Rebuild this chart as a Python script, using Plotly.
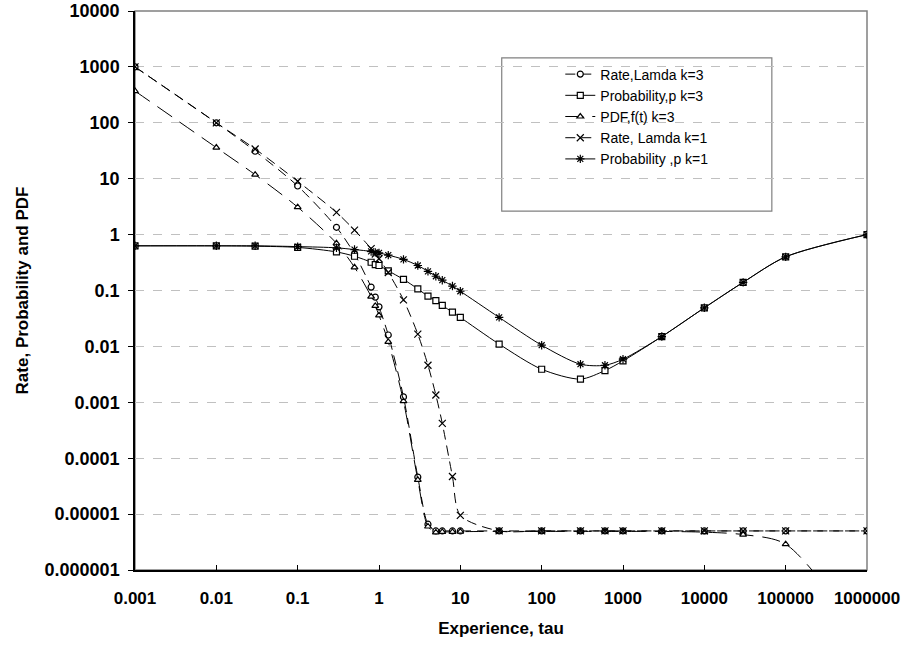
import plotly.graph_objects as go

# experience points (tau) shared by all series
tau = [0.001, 0.01, 0.03, 0.1, 0.3, 0.5, 0.8, 0.9, 1, 1.3, 2, 3, 4, 5, 6, 8, 10,
       30, 100, 300, 600, 1000, 3000, 10000, 30000, 100000, 1000000]

rate_k3 = [1000, 100, 31, 7.4, 1.35, 0.45, 0.115, 0.076, 0.051, 0.016, 0.00125, 4.6e-5, 6.6e-6,
           5e-6, 5e-6, 5e-6, 5e-6, 5e-6, 5e-6, 5e-6, 5e-6, 5e-6, 5e-6, 5e-6, 5e-6, 5e-6, 5e-6]
prob_k3 = [0.63, 0.63, 0.62, 0.59, 0.49, 0.41, 0.32, 0.29, 0.28, 0.225, 0.158, 0.107, 0.079,
           0.066, 0.054, 0.041, 0.033, 0.011, 0.0039, 0.0026, 0.0037, 0.0055, 0.015, 0.049,
           0.14, 0.4, 1.0]
pdf_k3 = [370, 36, 11.8, 3.1, 0.70, 0.26, 0.078, 0.053, 0.036, 0.012, 0.00105, 4.1e-5, 6e-6,
          4.7e-6, 4.8e-6, 4.8e-6, 4.85e-6, 4.9e-6, 4.9e-6, 4.9e-6, 4.9e-6, 4.9e-6, 4.9e-6,
          4.75e-6, 4.3e-6, 2.9e-6, 5e-8]
rate_k1 = [1000, 100, 34, 9.0, 2.5, 1.2, 0.56, 0.45, 0.37, 0.21, 0.068, 0.0166, 0.0046,
           0.00135, 0.00042, 4.7e-5, 9.5e-6, 5e-6, 5e-6, 5e-6, 5e-6, 5e-6, 5e-6, 5e-6, 5e-6,
           5e-6, 5e-6]
prob_k1 = [0.63, 0.63, 0.63, 0.61, 0.58, 0.54, 0.50, 0.48, 0.47, 0.43, 0.36, 0.28, 0.22,
           0.18, 0.153, 0.12, 0.097, 0.033, 0.0105, 0.0048, 0.0046, 0.0059, 0.015, 0.049,
           0.14, 0.4, 1.0]

x_ticks = [0.001, 0.01, 0.1, 1, 10, 100, 1000, 10000, 100000, 1000000]
x_ticktext = ["0.001", "0.01", "0.1", "1", "10", "100", "1000", "10000", "100000", "1000000"]
y_ticks = [1e-6, 1e-5, 1e-4, 1e-3, 1e-2, 0.1, 1, 10, 100, 1000, 10000]
y_ticktext = ["0.000001", "0.00001", "0.0001", "0.001", "0.01", "0.1", "1", "10", "100",
              "1000", "10000"]

FONT = "Liberation Sans, Arial, sans-serif"

series = [
    ("Rate,Lamda k=3", rate_k3, "circle", "10px,6px", 6),
    ("Probability,p k=3", prob_k3, "square", "solid", 6),
    ("PDF,f(t) k=3", pdf_k3, "triangle-up", "18px,9px", 6),
    ("Rate, Lamda k=1", rate_k1, "x-thin", "10px,6px", 7),
    ("Probability ,p k=1", prob_k1, "asterisk", "solid", 7),
]

fig = go.Figure()
for name, vals, sym, dash, size in series:
    fig.add_trace(go.Scatter(
        x=tau, y=vals, name=name, mode="lines+markers",
        line=dict(color="black", width=1, dash=dash, shape="spline", smoothing=0.8),
        marker=dict(symbol=sym, size=size, color="white",
                    line=dict(color="black", width=1.2)),
    ))

fig.update_xaxes(
    type="log", range=[-3, 6], tickvals=x_ticks, ticktext=x_ticktext,
    ticks="inside", ticklen=5, tickcolor="black", showgrid=False, automargin=False,
    showline=True, linecolor="black", linewidth=1.5, zeroline=False,
    tickfont=dict(family=FONT, size=17, color="black", weight="bold"),
    ticklabelstandoff=12,
    title=dict(text="Experience, tau", standoff=15,
               font=dict(family=FONT, size=17, color="black", weight="bold")),
)
fig.update_yaxes(
    type="log", range=[-6, 4], tickvals=y_ticks, ticktext=y_ticktext,
    ticks="outside", ticklen=5, tickcolor="black", automargin=False,
    showgrid=True, gridcolor="#c0c0c0", griddash="dash", gridwidth=1,
    showline=True, linecolor="black", linewidth=1.5, zeroline=False,
    tickfont=dict(family=FONT, size=18, color="black", weight="bold"),
    ticklabelstandoff=5,
    title=dict(text="Rate, Probability and PDF", standoff=12,
               font=dict(family=FONT, size=17, color="black", weight="bold")),
)

# plot-area frame (grey top/right) and legend box
fig.add_shape(type="rect", xref="paper", yref="paper", x0=0, x1=1, y0=0, y1=1,
              line=dict(color="#808080", width=1.5), layer="below")
fig.add_shape(type="rect", xref="paper", yref="paper", x0=0.501, x1=0.870, y0=0.642, y1=0.916,
              line=dict(color="#808080", width=1.2), fillcolor="white", layer="below")

fig.update_layout(
    width=905, height=646,
    margin=dict(l=135, r=38, t=11, b=76),
    paper_bgcolor="white", plot_bgcolor="white",
    font=dict(family=FONT, color="black"),
    showlegend=True,
    legend=dict(x=0.581, y=0.915, xanchor="left", yanchor="top",
                bgcolor="rgba(0,0,0,0)", borderwidth=0,
                font=dict(family=FONT, size=14, color="black")),
)

# drop the default 8px page margin so the figure sits at the window's corner
fig.write_html("out.html", config={"displayModeBar": False},
               post_script="document.body.style.margin='0px';")
